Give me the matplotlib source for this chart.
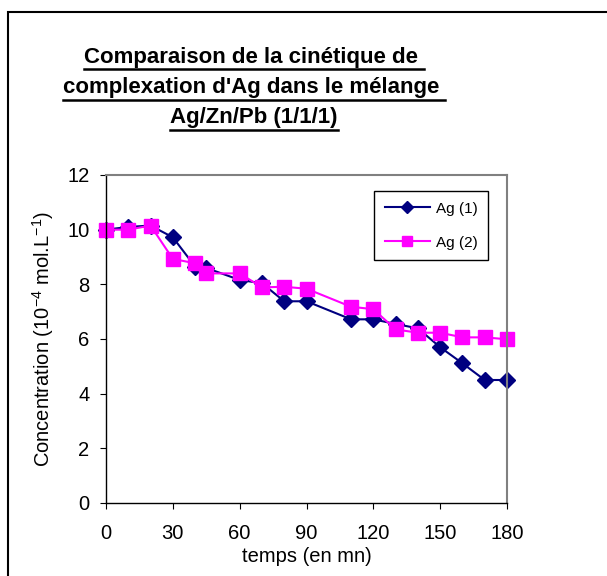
import matplotlib
matplotlib.use("Agg")
import matplotlib.pyplot as plt
from matplotlib.lines import Line2D
from matplotlib.patches import Rectangle

plt.rcParams['font.family'] = ['Liberation Sans', 'DejaVu Sans']
plt.rcParams['mathtext.fontset'] = 'custom'
plt.rcParams['mathtext.rm'] = 'Liberation Sans'

# temps (mn)
t = [0, 10, 20, 30, 40, 45, 60, 70, 80, 90, 110, 120, 130, 140, 150, 160, 170, 180]
ag1 = [10.0, 10.1, 10.15, 9.72, 8.65, 8.6, 8.16, 8.04, 7.38, 7.38, 6.72, 6.72, 6.55, 6.39, 5.7, 5.11, 4.5, 4.5]
ag2 = [10.0, 10.0, 10.15, 8.93, 8.77, 8.4, 8.4, 7.89, 7.91, 7.84, 7.18, 7.09, 6.35, 6.23, 6.23, 6.06, 6.06, 5.99]
xticks = [0, 30, 60, 90, 120, 150, 180]
yticks = [0, 2, 4, 6, 8, 10, 12]
title_lines = ["Comparaison de la cinétique de ",
               "complexation d'Ag dans le mélange ",
               "Ag/Zn/Pb (1/1/1)"]

W, H = 607, 576
fig = plt.figure(figsize=(W / 100, H / 100), dpi=100)
ax = fig.add_axes([106 / W, 1 - 503 / H, 401 / W, 328 / H])

ax.plot(t, ag1, color='#000080', lw=1.5, marker='D', ms=8, label='Ag (1)', clip_on=False)
ax.plot(t, ag2, color='#FF00FF', lw=1.5, marker='s', ms=9.5, label='Ag (2)', clip_on=False)

ax.set_xlim(0, 180)
ax.set_ylim(0, 12)
ax.set_xticks(xticks)
ax.set_yticks(yticks)
ax.tick_params(axis='x', direction='out', length=4, pad=11, labelsize=14.5)
ax.tick_params(axis='y', direction='out', length=4, pad=8, labelsize=14.5)
for s in ['top', 'right']:
    ax.spines[s].set_color('#808080')
    ax.spines[s].set_linewidth(1.5)
ax.spines['left'].set_linewidth(1)
ax.spines['bottom'].set_linewidth(1)

ax.set_xlabel('temps (en mn)', fontsize=14.5, labelpad=3)
ax.set_ylabel(r'Concentration (10$^{\mathregular{-4}}$ mol.L$^{\mathregular{-1}}$)',
              fontsize=14.5, labelpad=8)

leg = ax.legend(loc='upper left', bbox_to_anchor=(0.668, 0.951), fontsize=11,
                handlelength=3.0, handletextpad=0.35, markerscale=0.75,
                fancybox=False, framealpha=1, edgecolor='black',
                borderpad=0.7, labelspacing=1.3, borderaxespad=0)
leg.get_frame().set_linewidth(1)

# titre souligne
ys = [57, 88, 118]
txts = []
for line, y in zip(title_lines, ys):
    tx = fig.text(254 / W, 1 - y / H, line, ha='center', va='center',
                  fontsize=16, fontweight='bold')
    txts.append(tx)
fig.canvas.draw()
r = fig.canvas.get_renderer()
for tx in txts:
    bb = tx.get_window_extent(r)
    yl = bb.y0 - 1
    fig.add_artist(Line2D([bb.x0 / W, bb.x1 / W], [yl / H, yl / H],
                          transform=fig.transFigure, color='black', lw=1.8))

# cadre du graphique
fig.add_artist(Rectangle((7.5 / W, -0.1), 1.2, 1 - 11.5 / H + 0.1,
                         transform=fig.transFigure, fill=False,
                         edgecolor='black', lw=1.5))

fig.savefig('out.png', dpi=100)
